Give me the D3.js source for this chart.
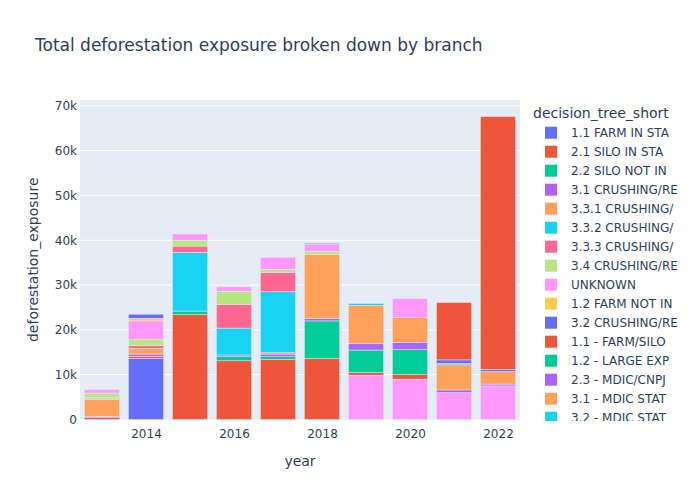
<!DOCTYPE html>
<html>
<head>
<meta charset="utf-8">
<script src="https://cdn.jsdelivr.net/npm/d3@7"></script>
<style>
  body { margin: 0; background: #fff; }
  text { font-family: "DejaVu Sans", verdana, arial, sans-serif; fill: #2a3f5f; }
</style>
</head>
<body>
<svg id="chart" width="700" height="500"></svg>
<script>
// ---- data ----
const years = [2013, 2014, 2015, 2016, 2017, 2018, 2019, 2020, 2021, 2022];
const xTicks = [2014, 2016, 2018, 2020, 2022];
const yTicks = [0, 10000, 20000, 30000, 40000, 50000, 60000, 70000];
const yTickLabels = ["0", "10k", "20k", "30k", "40k", "50k", "60k", "70k"];

const seriesNames = [
  "1.1 FARM IN STA", "2.1 SILO IN STA", "2.2 SILO NOT IN", "3.1 CRUSHING/RE",
  "3.3.1 CRUSHING/", "3.3.2 CRUSHING/", "3.3.3 CRUSHING/", "3.4 CRUSHING/RE",
  "UNKNOWN", "1.2 FARM NOT IN", "3.2 CRUSHING/RE", "1.1 - FARM/SILO",
  "1.2 - LARGE EXP", "2.3 - MDIC/CNPJ", "3.1 - MDIC STAT", "3.2 - MDIC STAT",
  "series 17", "series 18", "series 19", "series 20", "series 21", "series 22"
];
//                        2013  2014  2015   2016   2017   2018  2019  2020  2021   2022
const v_farm_in_sta    = [0,    13600, 0,    0,     0,     0,    0,    0,    0,     0];
const v_silo_in_sta    = [400,  500,  23400, 13100, 13400, 13600, 0,   0,    0,     0];
const v_silo_not_in    = [0,    0,    800,   900,   600,   8400, 0,    0,    0,     0];
const v_crush_31       = [300,  500,  0,     400,   600,   600,  0,    0,    0,     0];
const v_crush_331      = [3800, 1300, 0,     0,     300,   14200, 0,   0,    0,     0];
const v_crush_332      = [200,  0,    13100, 6000,  13600, 0,    0,    0,    0,     0];
const v_crush_333      = [200,  600,  1400,  5300,  4300,  0,    0,    0,    0,     0];
const v_crush_34       = [1000, 1300, 1300,  2900,  700,   700,  0,    0,    0,     0];
const v_unknown        = [800,  4200, 1400,  1000,  2700,  1600, 9900, 9000, 6000,  7500];
const v_farm_not_in    = [0,    600,  0,     0,     0,     0,    0,    0,    0,     0];
const v_crush_32       = [0,    900,  0,     0,     0,     200,  0,    0,    0,     0];
const v_farm_silo      = [0,    0,    0,     0,     0,     0,    600,  1000, 0,     0];
const v_large_exp      = [0,    0,    0,     0,     0,     0,    5000, 5600, 0,     0];
const v_mdic_cnpj      = [0,    0,    0,     0,     0,     0,    1400, 1600, 600,   400];
const v_mdic_stat_31   = [0,    0,    0,     0,     0,     0,    8600, 5600, 5600,  2800];
const v_mdic_stat_32   = [0,    0,    0,     0,     0,     0,    400,  0,    300,   0];
const v_s17            = [0,    0,    0,     0,     0,     0,    0,    0,    0,     0];
const v_s18            = [0,    0,    0,     0,     0,     0,    0,    0,    0,     0];
const v_s19            = [0,    0,    0,     0,     0,     0,    0,    4200, 0,     0];
const v_s20            = [0,    0,    0,     0,     0,     0,    0,    0,    0,     0];
const v_s21            = [0,    0,    0,     0,     0,     0,    0,    0,    800,   500];
const v_s22            = [0,    0,    0,     0,     0,     0,    0,    0,    12800, 56400];

const seriesValues = [
  v_farm_in_sta, v_silo_in_sta, v_silo_not_in, v_crush_31, v_crush_331, v_crush_332,
  v_crush_333, v_crush_34, v_unknown, v_farm_not_in, v_crush_32, v_farm_silo,
  v_large_exp, v_mdic_cnpj, v_mdic_stat_31, v_mdic_stat_32, v_s17, v_s18, v_s19,
  v_s20, v_s21, v_s22
];
const palette = ["#636efa", "#EF553B", "#00cc96", "#ab63fa", "#FFA15A",
                 "#19d3f3", "#FF6692", "#B6E880", "#FF97FF", "#FECB52"];

// ---- layout ----
const svg = d3.select("#chart");
const M = { left: 80, right: 520, top: 100, bottom: 419.5 };

const x = d3.scaleLinear().domain([2012.5, 2022.5]).range([M.left, M.right]);
const y = d3.scaleLinear().domain([0, 71300]).range([M.bottom, M.top]);
const barW = (x(1) - x(0)) * 0.8;

// background
svg.append("rect").attr("x", M.left).attr("y", M.top)
  .attr("width", M.right - M.left).attr("height", M.bottom - M.top)
  .attr("fill", "#E5ECF6");

// grid + y axis
const yAxis = d3.axisLeft(y).tickValues(yTicks)
  .tickFormat((d, i) => yTickLabels[i]).tickSize(0).tickPadding(3);
const gy = svg.append("g").attr("transform", `translate(${M.left},0)`).call(yAxis);
gy.select(".domain").remove();
gy.selectAll("text").attr("font-size", 12).style("fill", "#2a3f5f")
  .style("font-family", "'DejaVu Sans', verdana, arial, sans-serif");
svg.append("g").selectAll("line").data(yTicks.filter(d => d > 0)).join("line")
  .attr("x1", M.left).attr("x2", M.right)
  .attr("y1", d => y(d)).attr("y2", d => y(d))
  .attr("stroke", "#fff").attr("stroke-width", 1);

// stack
const rows = years.map((yr, i) => {
  const r = { year: yr };
  seriesNames.forEach((n, k) => r[n] = seriesValues[k][i]);
  return r;
});
const stacked = d3.stack().keys(seriesNames)(rows);

stacked.forEach((layer, k) => {
  svg.append("g").selectAll("rect").data(layer.filter(d => d[1] - d[0] > 0)).join("rect")
    .attr("x", d => x(d.data.year) - barW / 2)
    .attr("width", barW)
    .attr("y", d => y(d[1]))
    .attr("height", d => y(d[0]) - y(d[1]))
    .attr("fill", palette[k % 10])
    .attr("stroke", "#E5ECF6").attr("stroke-width", 0.5);
});

// x axis
const xAxis = d3.axisBottom(x).tickValues(xTicks).tickFormat(d3.format("d"))
  .tickSize(0).tickPadding(10);
const gx = svg.append("g").attr("transform", `translate(0,${M.bottom})`).call(xAxis);
gx.select(".domain").remove();
gx.selectAll("text").attr("font-size", 12).style("fill", "#2a3f5f")
  .style("font-family", "'DejaVu Sans', verdana, arial, sans-serif");

// titles
svg.append("text").attr("x", 35).attr("y", 51).attr("font-size", 17)
  .text("Total deforestation exposure broken down by branch");
svg.append("text").attr("x", (M.left + M.right) / 2).attr("y", 466)
  .attr("text-anchor", "middle").attr("font-size", 14).text("year");
svg.append("text").attr("transform", `translate(38,${(M.top + M.bottom) / 2}) rotate(-90)`)
  .attr("text-anchor", "middle").attr("font-size", 14).text("deforestation_exposure");

// legend (clipped like the reference)
svg.append("clipPath").attr("id", "legclip").append("rect")
  .attr("x", 525).attr("y", 100).attr("width", 175).attr("height", 321);
const leg = svg.append("g").attr("clip-path", "url(#legclip)");
leg.append("text").attr("x", 533).attr("y", 118).attr("font-size", 14).text("decision_tree_short");
const shown = seriesNames.slice(0, 16);
const items = leg.selectAll("g.item").data(shown).join("g").attr("class", "item")
  .attr("transform", (d, i) => `translate(0,${132.7 + i * 19})`);
items.append("rect").attr("x", 545).attr("y", -6).attr("width", 12).attr("height", 12)
  .attr("fill", (d, i) => palette[i % 10]);
items.append("text").attr("x", 571).attr("y", 4.5).attr("font-size", 12).text(d => d);
</script>
</body>
</html>
